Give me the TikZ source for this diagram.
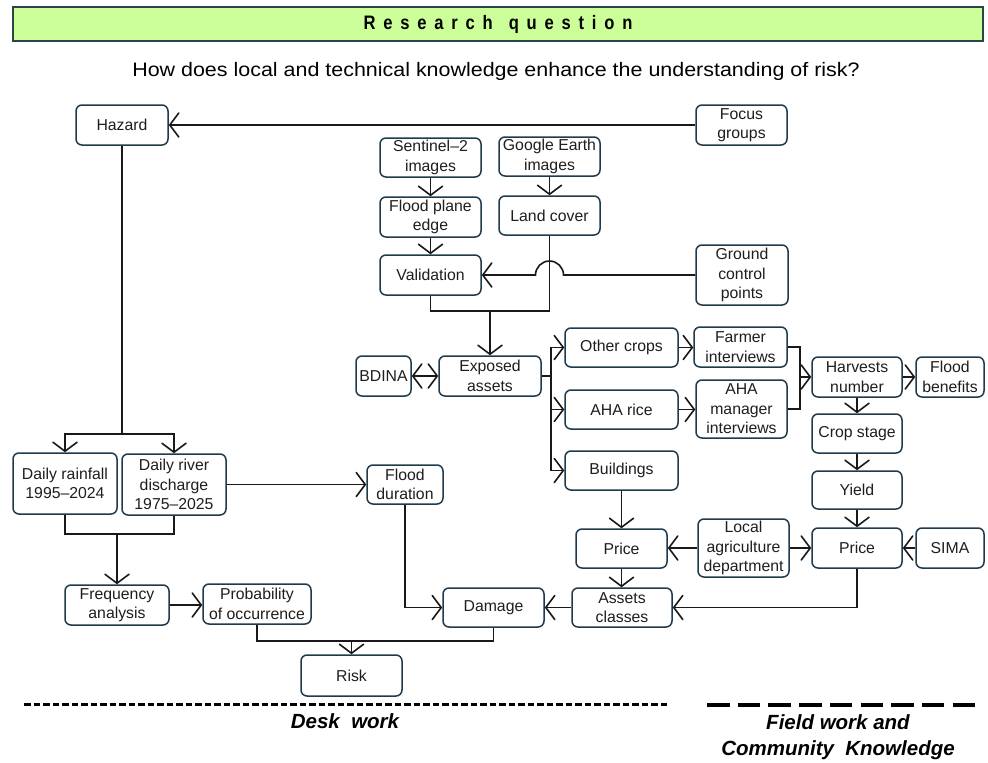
\documentclass[tikz,border=0pt]{standalone}
\usepackage{fontspec}
\setmainfont{Liberation Sans}
\usetikzlibrary{arrows.meta}
\definecolor{bxc}{RGB}{31,58,76}
\definecolor{ttl}{RGB}{204,255,153}
\definecolor{ttlb}{RGB}{40,70,72}
\definecolor{txt}{RGB}{30,30,30}
\newcommand{\bx}[6]{\node[box,minimum width={(#4-#2)*1pt},minimum height={(#5-#3)*1pt}] (#1) at ({(#2+#4)/2},{(#3+#5)/2}) {#6};}
\begin{document}
\begin{tikzpicture}[x=1pt,y=-1pt,
  box/.style={draw=bxc,line width=1.5pt,rounded corners=6pt,fill=white,align=center,inner sep=0pt,font=\fontsize{15.8}{19.5}\selectfont,text=txt},
  tip/.tip={Straight Barb[length=9pt,width=24pt,line cap=round]},
  arr/.style={-tip},
  arrboth/.style={tip-tip},
  conn/.style={line width=1.6pt,draw=black!90},
  lab/.style={align=center,font=\fontsize{20.5}{26}\selectfont\bfseries\itshape}]
\useasboundingbox (0,0) rectangle (988,763);
% title
\node[draw=ttlb,fill=ttl,line width=2pt,minimum width=970pt,minimum height=34pt,inner sep=0pt] (title) at (498,24)
  {\fontsize{19.5}{20}\selectfont\bfseries\addfontfeature{LetterSpace=40,FakeStretch=0.85}Research\hspace{16pt}question};
\node (q) at (496,71) {\fontsize{19.5}{22}\selectfont\addfontfeature{FakeStretch=1.1}How does local and technical knowledge enhance the understanding of risk?};
% boxes
\bx{hz}{76}{105}{168}{145}{Hazard}
\bx{fg}{696}{105}{787}{145}{Focus\\groups}
\bx{s2}{380}{138}{481}{177}{Sentinel–2\\images}
\bx{ge}{499}{137}{600}{176}{Google Earth\\images}
\bx{fp}{380}{197}{481}{237}{Flood plane\\edge}
\bx{lc}{499}{196}{600}{235}{Land cover}
\bx{val}{380}{255}{481}{295}{Validation}
\bx{gcp}{696}{245}{788}{305}{Ground\\control\\points}
\bx{bd}{356}{356}{411}{396}{BDINA}
\bx{ex}{439}{356}{541}{396}{Exposed\\assets}
\bx{oc}{565}{328}{678}{367}{Other crops}
\bx{ar}{565}{390}{678}{429}{AHA rice}
\bx{bl}{565}{451}{678}{490}{Buildings}
\bx{fi}{694}{327}{787}{367}{Farmer\\interviews}
\bx{am}{696}{380}{787}{438}{AHA\\manager\\interviews}
\bx{hn}{812}{357}{902}{397}{Harvests\\number}
\bx{fb}{916}{357}{984}{397}{Flood\\benefits}
\bx{cs}{812}{414}{902}{453}{Crop stage}
\bx{yd}{812}{471}{902}{509}{Yield}
\bx{pr}{812}{528}{902}{568}{Price}
\bx{sm}{916}{528}{984}{568}{SIMA}
\bx{la}{698}{519}{789}{577}{Local\\agriculture\\department}
\bx{pl}{576}{529}{667}{568}{Price}
\bx{ac}{572}{588}{672}{627}{Assets\\classes}
\bx{dm}{443}{588}{544}{627}{Damage}
\bx{rf}{13}{453}{117}{514}{Daily rainfall\\1995–2024}
\bx{dd}{122}{454}{226}{515}{Daily river\\discharge\\1975–2025}
\bx{fd}{367}{465}{443}{504}{Flood\\duration}
\bx{fa}{65}{585}{169}{625}{Frequency\\analysis}
\bx{po}{203}{584}{311}{624}{Probability\\of occurrence}
\bx{rk}{301}{655}{402}{696}{Risk}
% connectors
\draw[conn,arr] (fg.west) -- (hz.east);
\draw[conn,arr] (s2.south) -- (fp.north);
\draw[conn,arr] (ge.south) -- (lc.north);
\draw[conn,arr] (fp.south) -- (val.north);
\coordinate (j2) at (490,311);
\draw[conn] (val.south) |- (j2) -| (lc.south);
\draw[conn,arr] (j2) -- (ex.north);
\draw[conn,arr] (gcp.west) -- ([xshift=14pt]lc.south |- gcp.west) arc[start angle=0,end angle=180,radius=14pt] -- (val.east);
\draw[conn,arrboth] (bd.east) -- (ex.west);
\coordinate (tk) at (551,376);
\draw[conn] (ex.east) -- (tk);
\draw[conn,arr] (tk) |- (oc.west);
\draw[conn,arr] (tk) |- (ar.west);
\draw[conn,arr] (tk) |- (bl.west);
\draw[conn,arr] (oc.east) -- (fi.west |- oc.east);
\draw[conn,arr] (ar.east) -- (am.west |- ar.east);
\coordinate (tk2) at (800,377);
\draw[conn] (fi.east) -| (tk2);
\draw[conn] (am.east) -| (tk2);
\draw[conn,arr] (tk2) -- (hn.west);
\draw[conn,arr] (hn.east) -- (fb.west);
\draw[conn,arr] (hn.south) -- (cs.north);
\draw[conn,arr] (cs.south) -- (yd.north);
\draw[conn,arr] (yd.south) -- (pr.north);
\draw[conn,arr] (sm.west) -- (pr.east);
\draw[conn,arr] (la.west) -- (la.west -| pl.east);
\draw[conn,arr] (la.east) -- (la.east -| pr.west);
\draw[conn,arr] (bl.south) -- (pl.north);
\draw[conn,arr] (pl.south) -- (pl.south |- ac.north);
\draw[conn,arr] (pr.south) |- (ac.east);
\draw[conn,arr] (ac.west) -- (dm.east);
\draw[conn,arr] (fd.south) |- (dm.west);
\draw[conn,arr] (dd.east) -- (fd.west);
\coordinate (j0) at (122,434);
\draw[conn] (hz.south) -- (j0);
\draw[conn,arr] (j0) -| (rf.north);
\draw[conn,arr] (j0) -| (dd.north);
\coordinate (j1) at (117,534);
\draw[conn] (rf.south) |- (j1) -| (dd.south);
\draw[conn,arr] (j1) -- (fa.north);
\draw[conn,arr] (fa.east) -- (po.west |- fa.east);
\coordinate (j3) at (351.5,641);
\draw[conn] (po.south) |- (j3) -| (dm.south);
\draw[conn,arr] (j3) -- (rk.north);
% bottom
\coordinate (d1a) at (24,704); \coordinate (d1b) at (668,704);
\coordinate (d2a) at (707,705); \coordinate (d2b) at (975,705);
\draw[line width=3pt,dash pattern=on 6.5pt off 3pt] (d1a) -- (d1b);
\draw[line width=3.5pt,dash pattern=on 22.5pt off 8.2pt] (d2a) -- (d2b);
\node[lab] (dw) at (345,721) {Desk\ \ work};
\node[lab] (fw) at (838,737) {Field work and\\Community\ \ Knowledge};
\end{tikzpicture}
\end{document}
